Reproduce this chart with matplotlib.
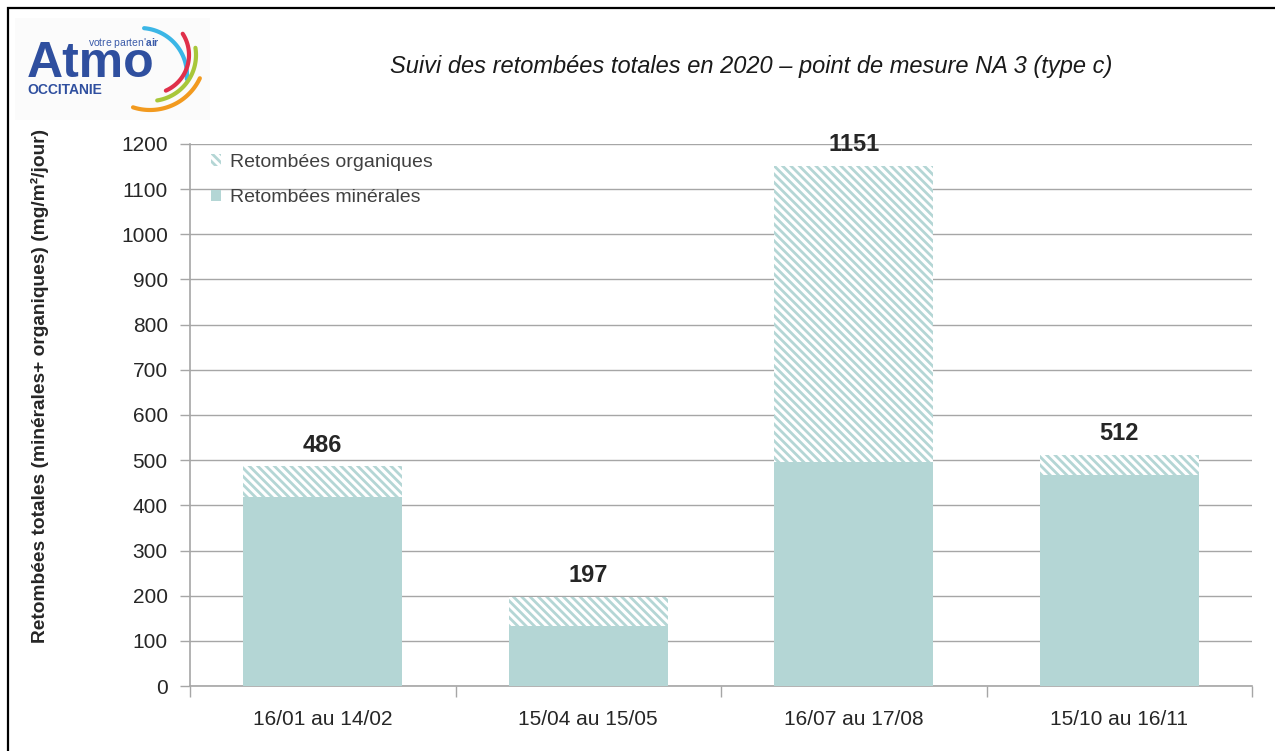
import numpy as np
import matplotlib
matplotlib.use("Agg")
import matplotlib.pyplot as plt
from matplotlib.patches import Patch, Rectangle

# ---- data ----
categories = ["16/01 au 14/02", "15/04 au 15/05", "16/07 au 17/08", "15/10 au 16/11"]
mineral = [418, 133, 496, 467]
total = [486, 197, 1151, 512]
organic = [t - m for t, m in zip(total, mineral)]
y_ticks = list(range(0, 1300, 100))

title = "Suivi des retombées totales en 2020 \u2013 point de mesure NA 3 (type c)"
ylabel = "Retombées totales (minérales+ organiques) (mg/m²/jour)"
legend_labels = ["Retombées organiques", "Retombées minérales"]

TEAL = "#B4D6D5"
NARROW = ["Liberation Sans Narrow", "Liberation Sans", "DejaVu Sans"]
plt.rcParams["font.family"] = ["Liberation Sans", "DejaVu Sans"]
plt.rcParams["mathtext.fontset"] = "custom"
plt.rcParams["mathtext.rm"] = "Liberation Sans"
plt.rcParams["mathtext.bf"] = "Liberation Sans:bold"
plt.rcParams["hatch.linewidth"] = 2.0
HATCH = "\\" * 4

W, H = 1275, 751
fig = plt.figure(figsize=(W / 100, H / 100), dpi=100)

# frame around figure (top / left visible)
fig.patches.append(Rectangle((8 / W, -0.1), 1.2, (H - 8) / H + 0.1, transform=fig.transFigure,
                             fill=False, edgecolor="black", linewidth=1.6, zorder=0))

ax = fig.add_axes([190 / W, 1 - 686 / H, (1252 - 190) / W, (686 - 144) / H])
x = np.arange(len(categories))
width = 0.60
ax.bar(x, mineral, width, color=TEAL, edgecolor=TEAL, linewidth=0, zorder=3)
ax.bar(x, organic, width, bottom=mineral, color="white", edgecolor=TEAL,
       hatch=HATCH, linewidth=0, zorder=3)

for xi, t in zip(x, total):
    ax.annotate(f"{t}", (xi, t), xytext=(0, 7), textcoords="offset points",
                ha="center", va="bottom", fontsize=17, fontweight="bold",
                color="#262626", zorder=5, family=NARROW)

ax.set_ylim(0, 1200)
ax.set_xlim(-0.5, len(categories) - 0.5)
ax.set_yticks(y_ticks)
ax.yaxis.grid(True, color="#A6A6A6", linewidth=1.0, zorder=0)
ax.set_axisbelow(True)
for s in ["top", "right"]:
    ax.spines[s].set_visible(False)
for s in ["left", "bottom"]:
    ax.spines[s].set_color("#A6A6A6")
    ax.spines[s].set_linewidth(1.2)
ax.tick_params(axis="y", direction="out", length=7, color="#A6A6A6", width=1.0,
               labelsize=15, labelcolor="#262626", pad=9)
ax.set_xticks(x)
ax.set_xticklabels(categories)
ax.tick_params(axis="x", length=0, labelsize=15, labelcolor="#262626", pad=17)
ax.set_xticks(np.arange(-0.5, len(categories)), minor=True)
ax.tick_params(axis="x", which="minor", length=8, direction="out", color="#A6A6A6", width=1.0)

fig.text(40 / W, 1 - 386 / H, ylabel, rotation=90, ha="center", va="center",
         fontsize=13.8, fontweight="bold", color="#262626", family=NARROW)

fig.text(751 / W, 1 - 67 / H, title, ha="center", va="center", fontsize=17,
         style="italic", color="#1a1a1a")

handles = [Patch(facecolor="white", edgecolor=TEAL, hatch=HATCH, linewidth=0),
           Patch(facecolor=TEAL, edgecolor=TEAL, linewidth=0)]
leg = ax.legend(handles, legend_labels, loc="upper left", bbox_to_anchor=(0.003, 1.014),
                frameon=False, fontsize=14, handlelength=0.55, handleheight=0.55,
                handletextpad=0.45, labelspacing=0.95)
for t in leg.get_texts():
    t.set_color("#404040")

# ---- logo ----
lax = fig.add_axes([15 / W, 1 - 120 / H, (210 - 15) / W, (120 - 18) / H])
lax.set_xlim(15, 210)
lax.set_ylim(120, 18)
lax.axis("off")
lax.add_patch(Rectangle((15, 18), 195, 102, facecolor="#FBFBFB", edgecolor="none"))
lax.text(27, 77, "Atmo", fontsize=36, fontweight="bold", color="#2F4F9F",
         ha="left", va="baseline")
lax.text(160, 46, r"votre parten'$\mathbf{air}$", fontsize=7.5, color="#3C5CAA",
         ha="right", va="baseline")
lax.text(27, 94, "OCCITANIE", fontsize=10, fontweight="bold", color="#2F4F9F",
         ha="left", va="baseline")

def arc(cx, cy, r, a0, a1, color):
    a = np.radians(np.linspace(a0, a1, 60))
    lax.plot(cx + r * np.cos(a), cy - r * np.sin(a), color=color, lw=3, solid_capstyle="round")

arc(140, 75, 47, 85, -5, "#3BB6E6")
arc(150, 55, 39, 33, -66, "#E0304A")
arc(150, 55, 46, 9, -81, "#A8C73A")
arc(150, 55, 55, -25, -108, "#F29A1F")

fig.savefig("out.png", dpi=100)
